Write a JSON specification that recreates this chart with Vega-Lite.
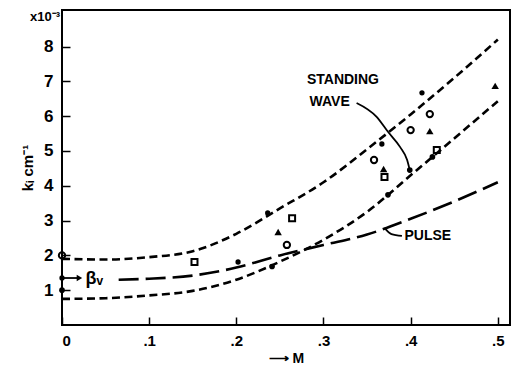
{
  "$schema": "https://vega.github.io/schema/vega-lite/v6.json",
  "width": 448,
  "height": 315,
  "autosize": {"type": "none"},
  "padding": {"left": 62, "top": 10, "right": 5, "bottom": 43},
  "background": "white",
  "config": {
    "view": {"stroke": "black", "strokeWidth": 2},
    "font": "Liberation Sans",
    "axis": {
      "grid": false,
      "domain": false,
      "labelColor": "black",
      "titleColor": "black",
      "labelFont": "Liberation Sans",
      "titleFont": "Liberation Sans",
      "labelFontWeight": "bold",
      "titleFontWeight": "bold"
    }
  },
  "datasets": {
    "curves": [
      {"curve": "upper", "M": 0.0, "k": 1.9},
      {"curve": "upper", "M": 0.05, "k": 1.88},
      {"curve": "upper", "M": 0.1, "k": 1.95},
      {"curve": "upper", "M": 0.15, "k": 2.12},
      {"curve": "upper", "M": 0.2, "k": 2.62},
      {"curve": "upper", "M": 0.25, "k": 3.35},
      {"curve": "upper", "M": 0.3, "k": 4.1},
      {"curve": "upper", "M": 0.35, "k": 5.05},
      {"curve": "upper", "M": 0.4, "k": 6.05},
      {"curve": "upper", "M": 0.45, "k": 7.1},
      {"curve": "upper", "M": 0.5, "k": 8.2},
      {"curve": "lower", "M": 0.0, "k": 0.75},
      {"curve": "lower", "M": 0.05, "k": 0.77},
      {"curve": "lower", "M": 0.1, "k": 0.85},
      {"curve": "lower", "M": 0.15, "k": 0.98},
      {"curve": "lower", "M": 0.2, "k": 1.3},
      {"curve": "lower", "M": 0.25, "k": 1.82},
      {"curve": "lower", "M": 0.3, "k": 2.45},
      {"curve": "lower", "M": 0.35, "k": 3.25},
      {"curve": "lower", "M": 0.4, "k": 4.3},
      {"curve": "lower", "M": 0.45, "k": 5.36},
      {"curve": "lower", "M": 0.5, "k": 6.43}
    ],
    "pulse": [
      {"M": 0.065, "k": 1.3},
      {"M": 0.1, "k": 1.33},
      {"M": 0.15, "k": 1.42},
      {"M": 0.2, "k": 1.65},
      {"M": 0.25, "k": 2.0},
      {"M": 0.3, "k": 2.3},
      {"M": 0.35, "k": 2.6},
      {"M": 0.4, "k": 3.05},
      {"M": 0.45, "k": 3.55},
      {"M": 0.5, "k": 4.1}
    ],
    "open": [
      {"kind": "circle", "M": 0.0, "k": 2.0},
      {"kind": "circle", "M": 0.358, "k": 4.74},
      {"kind": "circle", "M": 0.4, "k": 5.6},
      {"kind": "circle", "M": 0.422, "k": 6.06},
      {"kind": "circle", "M": 0.258, "k": 2.3},
      {"kind": "square", "M": 0.152, "k": 1.81},
      {"kind": "square", "M": 0.264, "k": 3.07},
      {"kind": "square", "M": 0.37, "k": 4.25},
      {"kind": "square", "M": 0.43, "k": 5.03}
    ],
    "triangles": [
      {"M": 0.248, "k": 2.67},
      {"M": 0.369, "k": 4.48},
      {"M": 0.422, "k": 5.57},
      {"M": 0.497, "k": 6.87}
    ],
    "solid": [
      {"kind": "dot", "M": 0.0, "k": 1.0},
      {"kind": "dot", "M": 0.241, "k": 1.68},
      {"kind": "dot", "M": 0.374, "k": 3.74},
      {"kind": "dot", "M": 0.399, "k": 4.45},
      {"kind": "dot", "M": 0.425, "k": 4.83},
      {"kind": "speck", "M": 0.202, "k": 1.81},
      {"kind": "speck", "M": 0.236, "k": 3.22},
      {"kind": "speck", "M": 0.367, "k": 5.2},
      {"kind": "speck", "M": 0.413, "k": 6.67},
      {"kind": "speck", "M": 0.0, "k": 1.35}
    ],
    "leaders": [
      {"path": "standing", "order": 1, "M": 0.338, "k": 6.38},
      {"path": "standing", "order": 2, "M": 0.361, "k": 5.98},
      {"path": "standing", "order": 3, "M": 0.374, "k": 5.55},
      {"path": "standing", "order": 4, "M": 0.388, "k": 5.11},
      {"path": "standing", "order": 5, "M": 0.396, "k": 4.74},
      {"path": "standing", "order": 6, "M": 0.399, "k": 4.45},
      {"path": "pulse", "order": 1, "M": 0.37, "k": 2.79},
      {"path": "pulse", "order": 2, "M": 0.378, "k": 2.61},
      {"path": "pulse", "order": 3, "M": 0.39, "k": 2.56},
      {"path": "beta", "order": 1, "M": 0.0, "k": 1.35},
      {"path": "beta", "order": 2, "M": 0.018, "k": 1.35}
    ],
    "labels": [
      {"text": "STANDING", "M": 0.281, "k": 7.04, "size": 14},
      {"text": "WAVE", "M": 0.284, "k": 6.41, "size": 14},
      {"text": "PULSE", "M": 0.393, "k": 2.56, "size": 14},
      {"text": "βᵥ", "M": 0.027, "k": 1.33, "size": 18}
    ]
  },
  "encoding": {
    "x": {
      "field": "M", "type": "quantitative",
      "scale": {"domain": [0, 0.514], "nice": false, "zero": false},
      "axis": {
        "orient": "bottom",
        "values": [0, 0.1, 0.2, 0.3, 0.4, 0.5],
        "labelExpr": "datum.value == 0 ? '0' : replace(format(datum.value, '.1f'), '0.', '.')",
        "offset": -8,
        "tickSize": 8,
        "tickWidth": 1.5,
        "tickColor": "black",
        "labelFontSize": 15,
        "labelPadding": 8,
        "title": "⟶ M",
        "titleFontSize": 14,
        "titlePadding": 3
      }
    },
    "y": {
      "field": "k", "type": "quantitative",
      "scale": {"domain": [0, 9.05], "nice": false, "zero": false},
      "axis": {
        "orient": "left",
        "values": [1, 2, 3, 4, 5, 6, 7, 8],
        "offset": -8,
        "tickSize": 8,
        "tickWidth": 1.5,
        "tickColor": "black",
        "labelFontSize": 17,
        "labelPadding": 9,
        "title": "kᵢ cm⁻¹",
        "titleFontSize": 15,
        "titlePadding": 8
      }
    }
  },
  "layer": [
    {
      "data": {"name": "curves"},
      "mark": {"type": "line", "interpolate": "monotone", "color": "black", "strokeWidth": 2.6, "strokeDash": [8, 4.5]},
      "encoding": {"detail": {"field": "curve"}}
    },
    {
      "data": {"name": "pulse"},
      "mark": {"type": "line", "interpolate": "monotone", "color": "black", "strokeWidth": 2.6, "strokeDash": [20, 7]},
      "encoding": {}
    },
    {
      "data": {"name": "leaders"},
      "mark": {"type": "line", "interpolate": "monotone", "color": "black", "strokeWidth": 1.8},
      "encoding": {
        "detail": {"field": "path"},
        "order": {"field": "order"}
      }
    },
    {
      "data": {"name": "open"},
      "mark": {"type": "point", "filled": false, "color": "black", "opacity": 1, "strokeWidth": 2},
      "encoding": {
        "shape": {"field": "kind", "type": "nominal", "scale": {"domain": ["circle", "square"], "range": ["circle", "square"]}, "legend": null},
        "size": {"field": "kind", "type": "nominal", "scale": {"domain": ["circle", "square"], "range": [40, 28]}, "legend": null}
      }
    },
    {
      "data": {"name": "triangles"},
      "mark": {"type": "point", "filled": true, "color": "black", "opacity": 1, "shape": "triangle-up", "size": 55}
    },
    {
      "data": {"name": "solid"},
      "mark": {"type": "point", "filled": true, "color": "black", "opacity": 1, "shape": "circle"},
      "encoding": {
        "size": {"field": "kind", "type": "nominal", "scale": {"domain": ["dot", "speck"], "range": [40, 12]}, "legend": null}
      }
    },
    {
      "data": {"values": [{"M": 0.02, "k": 1.35}]},
      "mark": {"type": "point", "filled": true, "color": "black", "opacity": 1, "shape": "triangle-right", "size": 40}
    },
    {
      "data": {"name": "labels"},
      "mark": {"type": "text", "align": "left", "baseline": "middle", "fontWeight": "bold", "font": "Liberation Sans", "color": "black"},
      "encoding": {
        "text": {"field": "text"},
        "size": {"field": "size", "type": "quantitative", "scale": null}
      }
    },
    {
      "data": {"values": [{"M": 0, "k": 8.85, "text": "x10⁻³"}]},
      "mark": {"type": "text", "align": "right", "baseline": "middle", "dx": -2, "fontWeight": "bold", "fontSize": 13, "font": "Liberation Sans", "color": "black"},
      "encoding": {"text": {"field": "text"}}
    }
  ]
}
